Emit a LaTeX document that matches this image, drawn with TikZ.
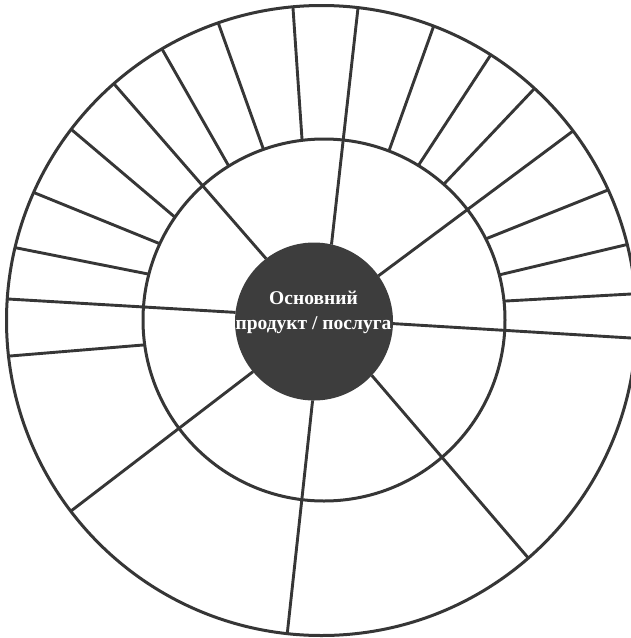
\documentclass[tikz,border=0pt]{standalone}
\usepackage{fontspec}
\setmainfont{Liberation Serif}
\usetikzlibrary{calc}
\definecolor{ink}{HTML}{363636}
\definecolor{core}{HTML}{3D3D3D}
\tikzset{
  ring/.style={draw=ink, line width=3pt},
  spoke/.style={draw=ink, line width=2.9pt},
  coretext/.style={text=white, font=\fontsize{19.5}{25}\selectfont\bfseries, inner sep=0pt, anchor=base}
}
\begin{document}
\begin{tikzpicture}[x=1pt,y=-1pt]
\useasboundingbox (0,0) rectangle (631,638);
\clip (0,0) rectangle (631,638);
\coordinate (oc) at (321.5,320.5);
\coordinate (mc) at (324,320);
\coordinate (ic) at (314,321.5);
% short spokes of the outer ring
\begin{scope}[even odd rule]
  \clip (oc) circle (315pt) (mc) circle (181pt);
  \foreach \ax/\ay/\bx/\by in {
      10/356/143/345, 17/248/148/274, 35/193/158/243, 72/130/170/213,
      162/49/227/163, 219/25/263/148, 293/8/302/139,
      433/28/390/148, 490/56/420/163, 535/88/445/183,
      608/190/488/238, 625/245/503/274, 631/294/506/301}
    \draw[spoke] ($(\ax,\ay)!-0.3!(\bx,\by)$) -- ($(\ax,\ay)!1.3!(\bx,\by)$);
\end{scope}
% long spokes through both rings
\begin{scope}[even odd rule]
  \clip (oc) circle (315pt) (ic) circle (79pt);
  \foreach \ax/\ay/\bx/\by in {
      8/299/280/315, 115/85/289/285, 358/8/327.5/280, 573/131/350/297,
      631/338/350/321, 530/560/350/350, 287/636/317/360, 71/511/280/351}
    \draw[spoke] ($(\ax,\ay)!-0.1!(\bx,\by)$) -- (\bx,\by);
\end{scope}
\draw[ring] (oc) circle (315pt);
\draw[ring] (mc) circle (181pt);
\fill[core] (ic) circle (79pt);
\node[coretext] (t1) at (313.5,304) {Основний};
\node[coretext] (t2) at (313.5,329) {продукт / послуга};
\end{tikzpicture}
\end{document}
